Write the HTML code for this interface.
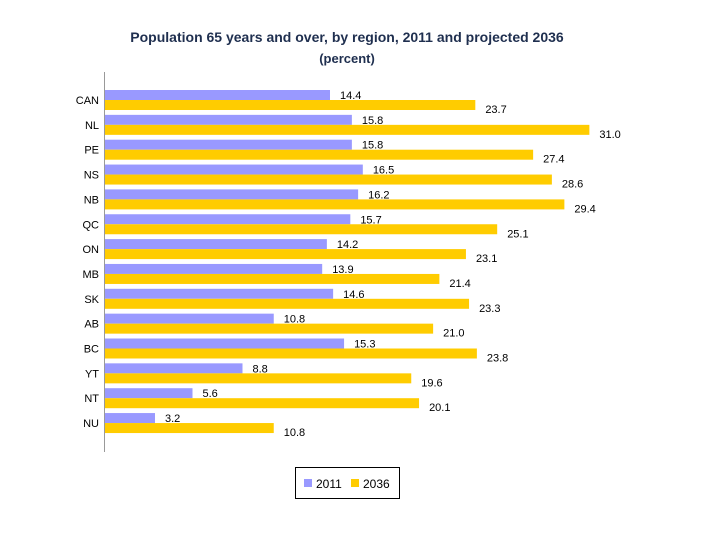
<!DOCTYPE html>
<html><head><meta charset="utf-8"><style>
body{margin:0;background:#fff;}
svg{display:block;font-family:"Liberation Sans",Arial,sans-serif;}
</style></head><body>
<svg id="chart" width="720" height="540">
<text x="347" y="42" text-anchor="middle" font-size="14" font-weight="bold" fill="#1f2f4f">Population 65 years and over, by region, 2011 and projected 2036</text>
<text x="347" y="63" text-anchor="middle" font-size="13" font-weight="bold" fill="#1f2f4f">(percent)</text>
<line x1="104.5" y1="72" x2="104.5" y2="452" stroke="#999"/>
<g id="bars"></g>
<rect x="295.5" y="467.5" width="104" height="31" fill="#fff" stroke="#000"/>
<rect x="304" y="479" width="8" height="8" fill="#9999ff"/>
<text x="316" y="488" font-size="12" fill="#000">2011</text>
<rect x="351" y="479" width="8" height="8" fill="#ffcc00"/>
<text x="363" y="488" font-size="12" fill="#000">2036</text>
</svg>
<script>
const categories=["CAN","NL","PE","NS","NB","QC","ON","MB","SK","AB","BC","YT","NT","NU"];
const values2011=[14.4,15.8,15.8,16.5,16.2,15.7,14.2,13.9,14.6,10.8,15.3,8.8,5.6,3.2];
const values2036=[23.7,31.0,27.4,28.6,29.4,25.1,23.1,21.4,23.3,21.0,23.8,19.6,20.1,10.8];
const NS="http://www.w3.org/2000/svg";
const g=document.getElementById('bars');
const x0=105, scale=15.625, top0=90, step=24.85, bh=10;
const xs=v=>x0+v*scale;
function mk(tag,attrs){const e=document.createElementNS(NS,tag);for(const k in attrs)e.setAttribute(k,attrs[k]);g.appendChild(e);return e;}
categories.forEach((c,i)=>{
  const y=top0+i*step;
  const lab=mk('text',{x:99,y:y+14,'text-anchor':'end','font-size':11,fill:'#000'});
  lab.textContent=c;
  
  
  const b1=mk('rect',{x:x0,y:y,width:xs(values2011[i])-x0,height:bh,fill:'#9999ff'});
  
  
  const b2=mk('rect',{x:x0,y:y+bh,width:xs(values2036[i])-x0,height:bh,fill:'#ffcc00'});
  
  
  const t1=mk('text',{x:xs(values2011[i])+10,y:y+9,'font-size':11,fill:'#000'});
  t1.textContent=values2011[i].toFixed(1);
  
  
  const t2=mk('text',{x:xs(values2036[i])+10,y:y+bh+13,'font-size':11,fill:'#000'});
  t2.textContent=values2036[i].toFixed(1);
  
  
});
</script>
</body></html>
